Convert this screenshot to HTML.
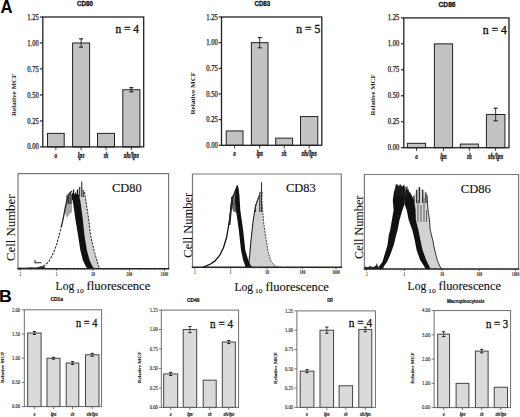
<!DOCTYPE html>
<html><head><meta charset="utf-8"><style>
html,body{margin:0;padding:0;background:#fff;width:520px;height:417px;overflow:hidden}
svg{display:block}
</style></head><body>
<svg width="520" height="417" viewBox="0 0 520 417">
<rect width="520" height="417" fill="#fff"/>
<rect x="47.5" y="133.39" width="16.7" height="13.51" fill="#c2c2c2" stroke="#222" stroke-width="1"/>
<rect x="72.6" y="42.98" width="17" height="103.92" fill="#c2c2c2" stroke="#222" stroke-width="1"/>
<line x1="81.1" y1="38.82" x2="81.1" y2="47.14" stroke="#222" stroke-width="0.9"/>
<line x1="79.1" y1="38.82" x2="83.1" y2="38.82" stroke="#222" stroke-width="1.17"/>
<line x1="79.1" y1="47.14" x2="83.1" y2="47.14" stroke="#222" stroke-width="1.17"/>
<rect x="97.5" y="133.39" width="17" height="13.51" fill="#c2c2c2" stroke="#222" stroke-width="1"/>
<rect x="122.8" y="89.74" width="17.1" height="57.16" fill="#c2c2c2" stroke="#222" stroke-width="1"/>
<line x1="131.35" y1="87.67" x2="131.35" y2="91.82" stroke="#222" stroke-width="0.9"/>
<line x1="129.35" y1="87.67" x2="133.35" y2="87.67" stroke="#222" stroke-width="1.17"/>
<line x1="129.35" y1="91.82" x2="133.35" y2="91.82" stroke="#222" stroke-width="1.17"/>
<rect x="42.8" y="17" width="100.9" height="129.9" fill="none" stroke="#222" stroke-width="1.3"/>
<line x1="40" y1="146.9" x2="42.8" y2="146.9" stroke="#222" stroke-width="1.17"/>
<text x="38.8" y="149.49" font-family='"Liberation Serif", serif' font-size="7.4" font-weight="normal" font-style="normal" text-anchor="end" fill="#222" textLength="11.6" lengthAdjust="spacingAndGlyphs" stroke="#222" stroke-width="0.25" >0.00</text>
<line x1="40" y1="120.92" x2="42.8" y2="120.92" stroke="#222" stroke-width="1.17"/>
<text x="38.8" y="123.51" font-family='"Liberation Serif", serif' font-size="7.4" font-weight="normal" font-style="normal" text-anchor="end" fill="#222" textLength="11.6" lengthAdjust="spacingAndGlyphs" stroke="#222" stroke-width="0.25" >0.25</text>
<line x1="40" y1="94.94" x2="42.8" y2="94.94" stroke="#222" stroke-width="1.17"/>
<text x="38.8" y="97.53" font-family='"Liberation Serif", serif' font-size="7.4" font-weight="normal" font-style="normal" text-anchor="end" fill="#222" textLength="11.6" lengthAdjust="spacingAndGlyphs" stroke="#222" stroke-width="0.25" >0.50</text>
<line x1="40" y1="68.96" x2="42.8" y2="68.96" stroke="#222" stroke-width="1.17"/>
<text x="38.8" y="71.55" font-family='"Liberation Serif", serif' font-size="7.4" font-weight="normal" font-style="normal" text-anchor="end" fill="#222" textLength="11.6" lengthAdjust="spacingAndGlyphs" stroke="#222" stroke-width="0.25" >0.75</text>
<line x1="40" y1="42.98" x2="42.8" y2="42.98" stroke="#222" stroke-width="1.17"/>
<text x="38.8" y="45.57" font-family='"Liberation Serif", serif' font-size="7.4" font-weight="normal" font-style="normal" text-anchor="end" fill="#222" textLength="11.6" lengthAdjust="spacingAndGlyphs" stroke="#222" stroke-width="0.25" >1.00</text>
<line x1="40" y1="17" x2="42.8" y2="17" stroke="#222" stroke-width="1.17"/>
<text x="38.8" y="19.59" font-family='"Liberation Serif", serif' font-size="7.4" font-weight="normal" font-style="normal" text-anchor="end" fill="#222" textLength="11.6" lengthAdjust="spacingAndGlyphs" stroke="#222" stroke-width="0.25" >1.25</text>
<line x1="55.85" y1="146.9" x2="55.85" y2="150.1" stroke="#222" stroke-width="0.9"/>
<text x="55.85" y="157.6" font-family='"Liberation Serif", serif' font-size="7.4" font-weight="bold" font-style="italic" text-anchor="middle" fill="#222" textLength="2.6" lengthAdjust="spacingAndGlyphs" stroke="#222" stroke-width="0.3" >o</text>
<line x1="81.1" y1="146.9" x2="81.1" y2="150.1" stroke="#222" stroke-width="0.9"/>
<text x="81.1" y="157.6" font-family='"Liberation Serif", serif' font-size="7.4" font-weight="bold" font-style="italic" text-anchor="middle" fill="#222" textLength="6.6" lengthAdjust="spacingAndGlyphs" stroke="#222" stroke-width="0.3" >lps</text>
<line x1="106" y1="146.9" x2="106" y2="150.1" stroke="#222" stroke-width="0.9"/>
<text x="106" y="157.6" font-family='"Liberation Serif", serif' font-size="7.4" font-weight="bold" font-style="italic" text-anchor="middle" fill="#222" textLength="4.6" lengthAdjust="spacingAndGlyphs" stroke="#222" stroke-width="0.3" >sh</text>
<line x1="131.35" y1="146.9" x2="131.35" y2="150.1" stroke="#222" stroke-width="0.9"/>
<text x="131.35" y="157.6" font-family='"Liberation Serif", serif' font-size="7.4" font-weight="bold" font-style="italic" text-anchor="middle" fill="#222" textLength="15.2" lengthAdjust="spacingAndGlyphs" stroke="#222" stroke-width="0.3" >sh/lps</text>
<text x="77" y="5.9" font-family='"Liberation Sans", sans-serif' font-size="7" font-weight="bold" font-style="normal" text-anchor="start" fill="#111" textLength="15.9" lengthAdjust="spacingAndGlyphs" stroke="#111" stroke-width="0.3" >CD80</text>
<text x="115.4" y="32.8" font-family='"Liberation Serif", serif' font-size="12" font-weight="normal" font-style="normal" text-anchor="start" fill="#111" textLength="23.5" lengthAdjust="spacingAndGlyphs" stroke="#111" stroke-width="0.35" >n = 4</text>
<text x="0" y="0" font-family='"Liberation Serif", serif' font-size="6.4" font-weight="bold" font-style="normal" text-anchor="middle" fill="#222" textLength="42.4" lengthAdjust="spacingAndGlyphs" transform="translate(16,94.8) rotate(-90)">Relative MCF</text>
<rect x="226.2" y="130.93" width="16.8" height="14.37" fill="#c2c2c2" stroke="#222" stroke-width="1"/>
<rect x="251.4" y="42.66" width="16.6" height="102.64" fill="#c2c2c2" stroke="#222" stroke-width="1"/>
<line x1="259.7" y1="37.53" x2="259.7" y2="47.79" stroke="#222" stroke-width="0.9"/>
<line x1="257.7" y1="37.53" x2="261.7" y2="37.53" stroke="#222" stroke-width="1.17"/>
<line x1="257.7" y1="47.79" x2="261.7" y2="47.79" stroke="#222" stroke-width="1.17"/>
<rect x="275.7" y="138.12" width="16.9" height="7.18" fill="#c2c2c2" stroke="#222" stroke-width="1"/>
<rect x="300.5" y="116.56" width="17.3" height="28.74" fill="#c2c2c2" stroke="#222" stroke-width="1"/>
<rect x="221.5" y="17" width="100.3" height="128.3" fill="none" stroke="#222" stroke-width="1.3"/>
<line x1="218.7" y1="145.3" x2="221.5" y2="145.3" stroke="#222" stroke-width="1.17"/>
<text x="217.8" y="147.89" font-family='"Liberation Serif", serif' font-size="7.4" font-weight="normal" font-style="normal" text-anchor="end" fill="#222" textLength="11.6" lengthAdjust="spacingAndGlyphs" stroke="#222" stroke-width="0.25" >0.00</text>
<line x1="218.7" y1="119.64" x2="221.5" y2="119.64" stroke="#222" stroke-width="1.17"/>
<text x="217.8" y="122.23" font-family='"Liberation Serif", serif' font-size="7.4" font-weight="normal" font-style="normal" text-anchor="end" fill="#222" textLength="11.6" lengthAdjust="spacingAndGlyphs" stroke="#222" stroke-width="0.25" >0.25</text>
<line x1="218.7" y1="93.98" x2="221.5" y2="93.98" stroke="#222" stroke-width="1.17"/>
<text x="217.8" y="96.57" font-family='"Liberation Serif", serif' font-size="7.4" font-weight="normal" font-style="normal" text-anchor="end" fill="#222" textLength="11.6" lengthAdjust="spacingAndGlyphs" stroke="#222" stroke-width="0.25" >0.50</text>
<line x1="218.7" y1="68.32" x2="221.5" y2="68.32" stroke="#222" stroke-width="1.17"/>
<text x="217.8" y="70.91" font-family='"Liberation Serif", serif' font-size="7.4" font-weight="normal" font-style="normal" text-anchor="end" fill="#222" textLength="11.6" lengthAdjust="spacingAndGlyphs" stroke="#222" stroke-width="0.25" >0.75</text>
<line x1="218.7" y1="42.66" x2="221.5" y2="42.66" stroke="#222" stroke-width="1.17"/>
<text x="217.8" y="45.25" font-family='"Liberation Serif", serif' font-size="7.4" font-weight="normal" font-style="normal" text-anchor="end" fill="#222" textLength="11.6" lengthAdjust="spacingAndGlyphs" stroke="#222" stroke-width="0.25" >1.00</text>
<line x1="218.7" y1="17" x2="221.5" y2="17" stroke="#222" stroke-width="1.17"/>
<text x="217.8" y="19.59" font-family='"Liberation Serif", serif' font-size="7.4" font-weight="normal" font-style="normal" text-anchor="end" fill="#222" textLength="11.6" lengthAdjust="spacingAndGlyphs" stroke="#222" stroke-width="0.25" >1.25</text>
<line x1="234.6" y1="145.3" x2="234.6" y2="148.5" stroke="#222" stroke-width="0.9"/>
<text x="234.6" y="156.3" font-family='"Liberation Serif", serif' font-size="7.4" font-weight="bold" font-style="italic" text-anchor="middle" fill="#222" textLength="2.6" lengthAdjust="spacingAndGlyphs" stroke="#222" stroke-width="0.3" >o</text>
<line x1="259.7" y1="145.3" x2="259.7" y2="148.5" stroke="#222" stroke-width="0.9"/>
<text x="259.7" y="156.3" font-family='"Liberation Serif", serif' font-size="7.4" font-weight="bold" font-style="italic" text-anchor="middle" fill="#222" textLength="6.6" lengthAdjust="spacingAndGlyphs" stroke="#222" stroke-width="0.3" >lps</text>
<line x1="284.15" y1="145.3" x2="284.15" y2="148.5" stroke="#222" stroke-width="0.9"/>
<text x="284.15" y="156.3" font-family='"Liberation Serif", serif' font-size="7.4" font-weight="bold" font-style="italic" text-anchor="middle" fill="#222" textLength="4.6" lengthAdjust="spacingAndGlyphs" stroke="#222" stroke-width="0.3" >sh</text>
<line x1="309.15" y1="145.3" x2="309.15" y2="148.5" stroke="#222" stroke-width="0.9"/>
<text x="309.15" y="156.3" font-family='"Liberation Serif", serif' font-size="7.4" font-weight="bold" font-style="italic" text-anchor="middle" fill="#222" textLength="15.2" lengthAdjust="spacingAndGlyphs" stroke="#222" stroke-width="0.3" >sh/lps</text>
<text x="254.5" y="5.9" font-family='"Liberation Sans", sans-serif' font-size="7" font-weight="bold" font-style="normal" text-anchor="start" fill="#111" textLength="15.7" lengthAdjust="spacingAndGlyphs" stroke="#111" stroke-width="0.3" >CD83</text>
<text x="296.3" y="33.4" font-family='"Liberation Serif", serif' font-size="12" font-weight="normal" font-style="normal" text-anchor="start" fill="#111" textLength="24" lengthAdjust="spacingAndGlyphs" stroke="#111" stroke-width="0.35" >n = 5</text>
<text x="0" y="0" font-family='"Liberation Serif", serif' font-size="6.4" font-weight="bold" font-style="normal" text-anchor="middle" fill="#222" textLength="42.8" lengthAdjust="spacingAndGlyphs" transform="translate(195.3,93.2) rotate(-90)">Relative MCF</text>
<rect x="407.4" y="143.34" width="18.2" height="4.36" fill="#c2c2c2" stroke="#222" stroke-width="1"/>
<rect x="434.4" y="43.86" width="18.2" height="103.84" fill="#c2c2c2" stroke="#222" stroke-width="1"/>
<rect x="460.3" y="144.07" width="18.1" height="3.63" fill="#c2c2c2" stroke="#222" stroke-width="1"/>
<rect x="486.4" y="114.47" width="18.5" height="33.23" fill="#c2c2c2" stroke="#222" stroke-width="1"/>
<line x1="495.65" y1="108.24" x2="495.65" y2="120.7" stroke="#222" stroke-width="0.9"/>
<line x1="493.65" y1="108.24" x2="497.65" y2="108.24" stroke="#222" stroke-width="1.17"/>
<line x1="493.65" y1="120.7" x2="497.65" y2="120.7" stroke="#222" stroke-width="1.17"/>
<rect x="403.8" y="17.9" width="105.2" height="129.8" fill="none" stroke="#222" stroke-width="1.3"/>
<line x1="401" y1="147.7" x2="403.8" y2="147.7" stroke="#222" stroke-width="1.17"/>
<text x="399.3" y="150.29" font-family='"Liberation Serif", serif' font-size="7.4" font-weight="normal" font-style="normal" text-anchor="end" fill="#222" textLength="11.6" lengthAdjust="spacingAndGlyphs" stroke="#222" stroke-width="0.25" >0.00</text>
<line x1="401" y1="121.74" x2="403.8" y2="121.74" stroke="#222" stroke-width="1.17"/>
<text x="399.3" y="124.33" font-family='"Liberation Serif", serif' font-size="7.4" font-weight="normal" font-style="normal" text-anchor="end" fill="#222" textLength="11.6" lengthAdjust="spacingAndGlyphs" stroke="#222" stroke-width="0.25" >0.25</text>
<line x1="401" y1="95.78" x2="403.8" y2="95.78" stroke="#222" stroke-width="1.17"/>
<text x="399.3" y="98.37" font-family='"Liberation Serif", serif' font-size="7.4" font-weight="normal" font-style="normal" text-anchor="end" fill="#222" textLength="11.6" lengthAdjust="spacingAndGlyphs" stroke="#222" stroke-width="0.25" >0.50</text>
<line x1="401" y1="69.82" x2="403.8" y2="69.82" stroke="#222" stroke-width="1.17"/>
<text x="399.3" y="72.41" font-family='"Liberation Serif", serif' font-size="7.4" font-weight="normal" font-style="normal" text-anchor="end" fill="#222" textLength="11.6" lengthAdjust="spacingAndGlyphs" stroke="#222" stroke-width="0.25" >0.75</text>
<line x1="401" y1="43.86" x2="403.8" y2="43.86" stroke="#222" stroke-width="1.17"/>
<text x="399.3" y="46.45" font-family='"Liberation Serif", serif' font-size="7.4" font-weight="normal" font-style="normal" text-anchor="end" fill="#222" textLength="11.6" lengthAdjust="spacingAndGlyphs" stroke="#222" stroke-width="0.25" >1.00</text>
<line x1="401" y1="17.9" x2="403.8" y2="17.9" stroke="#222" stroke-width="1.17"/>
<text x="399.3" y="20.49" font-family='"Liberation Serif", serif' font-size="7.4" font-weight="normal" font-style="normal" text-anchor="end" fill="#222" textLength="11.6" lengthAdjust="spacingAndGlyphs" stroke="#222" stroke-width="0.25" >1.25</text>
<line x1="416.5" y1="147.7" x2="416.5" y2="150.9" stroke="#222" stroke-width="0.9"/>
<text x="416.5" y="158.8" font-family='"Liberation Serif", serif' font-size="7.4" font-weight="bold" font-style="italic" text-anchor="middle" fill="#222" textLength="2.6" lengthAdjust="spacingAndGlyphs" stroke="#222" stroke-width="0.3" >o</text>
<line x1="443.5" y1="147.7" x2="443.5" y2="150.9" stroke="#222" stroke-width="0.9"/>
<text x="443.5" y="158.8" font-family='"Liberation Serif", serif' font-size="7.4" font-weight="bold" font-style="italic" text-anchor="middle" fill="#222" textLength="6.6" lengthAdjust="spacingAndGlyphs" stroke="#222" stroke-width="0.3" >lps</text>
<line x1="469.35" y1="147.7" x2="469.35" y2="150.9" stroke="#222" stroke-width="0.9"/>
<text x="469.35" y="158.8" font-family='"Liberation Serif", serif' font-size="7.4" font-weight="bold" font-style="italic" text-anchor="middle" fill="#222" textLength="4.6" lengthAdjust="spacingAndGlyphs" stroke="#222" stroke-width="0.3" >sh</text>
<line x1="495.65" y1="147.7" x2="495.65" y2="150.9" stroke="#222" stroke-width="0.9"/>
<text x="495.65" y="158.8" font-family='"Liberation Serif", serif' font-size="7.4" font-weight="bold" font-style="italic" text-anchor="middle" fill="#222" textLength="15.2" lengthAdjust="spacingAndGlyphs" stroke="#222" stroke-width="0.3" >sh/lps</text>
<text x="438.6" y="6.6" font-family='"Liberation Sans", sans-serif' font-size="7" font-weight="bold" font-style="normal" text-anchor="start" fill="#111" textLength="16.9" lengthAdjust="spacingAndGlyphs" stroke="#111" stroke-width="0.3" >CD86</text>
<text x="482.8" y="34.4" font-family='"Liberation Serif", serif' font-size="12" font-weight="normal" font-style="normal" text-anchor="start" fill="#111" textLength="24" lengthAdjust="spacingAndGlyphs" stroke="#111" stroke-width="0.35" >n = 4</text>
<text x="0" y="0" font-family='"Liberation Serif", serif' font-size="6.4" font-weight="bold" font-style="normal" text-anchor="middle" fill="#222" textLength="41.2" lengthAdjust="spacingAndGlyphs" transform="translate(375.3,94.9) rotate(-90)">Relative MCF</text>
<polygon points="64.5,212 66,203 67,197 68.5,194.5 70,193 72,194 72,212 69.5,214 67,218" fill="#8a8a8a" stroke="none" stroke-width="0" fill-opacity="0.75" stroke-linejoin="round"/>
<polygon points="77,196 78,190 81,186 83,189 84.5,193 86.5,205 88.8,220 90.5,235 93.9,250 96.8,260 99,267.5 100.5,268.8 88,268.8" fill="#d0d0d0" stroke="none" stroke-width="0" stroke-linejoin="round"/>
<line x1="81.7" y1="181.4" x2="81.7" y2="197" stroke="#444" stroke-width="1.2"/><line x1="79.5" y1="187" x2="79.5" y2="197" stroke="#444" stroke-width="1.2"/><line x1="83.3" y1="190" x2="83.3" y2="197" stroke="#444" stroke-width="1.2"/>
<polyline points="84.5,192 86.5,205 88.8,220 90.5,235 93.9,250 96.8,260 99,267.5 101.5,268.8" fill="none" stroke="#222" stroke-width="1" stroke-dasharray="2.2,1.2" stroke-linejoin="round"/>
<polyline points="40,267.6 44.6,265.5 48.8,261.5 52.5,254.8 55,249 57,243 59.5,234 61.2,227" fill="none" stroke="#333" stroke-width="1.1" stroke-dasharray="2.4,1.2" stroke-linejoin="round"/>
<polyline points="61.2,227 62.8,220.6 65,209 67.4,197.8 68.5,195.5 70.5,192.5 72,191" fill="none" stroke="#222" stroke-width="1.3" stroke-linejoin="round"/>
<line x1="67" y1="194.5" x2="67" y2="204" stroke="#333" stroke-width="1"/><line x1="68.5" y1="193.5" x2="68.5" y2="204" stroke="#333" stroke-width="1"/><line x1="70" y1="192" x2="70" y2="204" stroke="#333" stroke-width="1"/><line x1="71" y1="194" x2="71" y2="204" stroke="#333" stroke-width="1"/>
<polygon points="72,197 72,194 73,193 74.2,194 75.5,195 76.5,194 77.6,193 78.8,195 80.2,200 82.9,220 84.4,235 86.8,250 89.5,260 92.2,266 94.5,268.8 87.5,268.8 85.6,266 82.8,260 80.3,250 78,235 75.5,220 73.4,205" fill="#111" stroke="none" stroke-width="0" stroke-linejoin="round"/>
<line x1="73.6" y1="189.4" x2="73.6" y2="200" stroke="#111" stroke-width="1.2"/><line x1="77.4" y1="189.4" x2="77.4" y2="200" stroke="#111" stroke-width="1.2"/><line x1="75.5" y1="192.5" x2="75.5" y2="200" stroke="#111" stroke-width="1.2"/><line x1="72.5" y1="193" x2="72.5" y2="200" stroke="#111" stroke-width="1.2"/>
<polyline points="35,259.8 35,263.2" fill="none" stroke="#333" stroke-width="1" stroke-linejoin="round"/>
<polyline points="34.8,262.7 41.5,262.7" fill="none" stroke="#333" stroke-width="1.1" stroke-linejoin="round"/>
<polygon points="18,268.8 18,267.6 25,267.8 30,267.2 36,267.4 40,266.6 44,266 46,268.8" fill="#333" stroke="none" stroke-width="0" stroke-linejoin="round"/>
<path d="M18,268.8 V173.6 H168.6 V268.8" fill="none" stroke="#7a7a7a" stroke-width="1.2"/>
<line x1="17.3" y1="268.8" x2="169.3" y2="268.8" stroke="#222" stroke-width="1.5"/>
<line x1="20.2" y1="268.8" x2="20.2" y2="270.8" stroke="#333" stroke-width="0.8"/>
<line x1="31.05" y1="268.8" x2="31.05" y2="270.1" stroke="#555" stroke-width="0.6"/>
<line x1="37.4" y1="268.8" x2="37.4" y2="270.1" stroke="#555" stroke-width="0.6"/>
<line x1="41.9" y1="268.8" x2="41.9" y2="270.1" stroke="#555" stroke-width="0.6"/>
<line x1="45.4" y1="268.8" x2="45.4" y2="270.1" stroke="#555" stroke-width="0.6"/>
<line x1="48.25" y1="268.8" x2="48.25" y2="270.1" stroke="#555" stroke-width="0.6"/>
<line x1="50.67" y1="268.8" x2="50.67" y2="270.1" stroke="#555" stroke-width="0.6"/>
<line x1="52.76" y1="268.8" x2="52.76" y2="270.1" stroke="#555" stroke-width="0.6"/>
<line x1="54.6" y1="268.8" x2="54.6" y2="270.1" stroke="#555" stroke-width="0.6"/>
<line x1="56.6" y1="268.8" x2="56.6" y2="270.8" stroke="#333" stroke-width="0.8"/>
<line x1="67.45" y1="268.8" x2="67.45" y2="270.1" stroke="#555" stroke-width="0.6"/>
<line x1="73.8" y1="268.8" x2="73.8" y2="270.1" stroke="#555" stroke-width="0.6"/>
<line x1="78.3" y1="268.8" x2="78.3" y2="270.1" stroke="#555" stroke-width="0.6"/>
<line x1="81.8" y1="268.8" x2="81.8" y2="270.1" stroke="#555" stroke-width="0.6"/>
<line x1="84.65" y1="268.8" x2="84.65" y2="270.1" stroke="#555" stroke-width="0.6"/>
<line x1="87.07" y1="268.8" x2="87.07" y2="270.1" stroke="#555" stroke-width="0.6"/>
<line x1="89.16" y1="268.8" x2="89.16" y2="270.1" stroke="#555" stroke-width="0.6"/>
<line x1="91" y1="268.8" x2="91" y2="270.1" stroke="#555" stroke-width="0.6"/>
<line x1="93" y1="268.8" x2="93" y2="270.8" stroke="#333" stroke-width="0.8"/>
<line x1="103.85" y1="268.8" x2="103.85" y2="270.1" stroke="#555" stroke-width="0.6"/>
<line x1="110.2" y1="268.8" x2="110.2" y2="270.1" stroke="#555" stroke-width="0.6"/>
<line x1="114.7" y1="268.8" x2="114.7" y2="270.1" stroke="#555" stroke-width="0.6"/>
<line x1="118.2" y1="268.8" x2="118.2" y2="270.1" stroke="#555" stroke-width="0.6"/>
<line x1="121.05" y1="268.8" x2="121.05" y2="270.1" stroke="#555" stroke-width="0.6"/>
<line x1="123.47" y1="268.8" x2="123.47" y2="270.1" stroke="#555" stroke-width="0.6"/>
<line x1="125.56" y1="268.8" x2="125.56" y2="270.1" stroke="#555" stroke-width="0.6"/>
<line x1="127.4" y1="268.8" x2="127.4" y2="270.1" stroke="#555" stroke-width="0.6"/>
<line x1="129.3" y1="268.8" x2="129.3" y2="270.8" stroke="#333" stroke-width="0.8"/>
<line x1="140.15" y1="268.8" x2="140.15" y2="270.1" stroke="#555" stroke-width="0.6"/>
<line x1="146.5" y1="268.8" x2="146.5" y2="270.1" stroke="#555" stroke-width="0.6"/>
<line x1="151" y1="268.8" x2="151" y2="270.1" stroke="#555" stroke-width="0.6"/>
<line x1="154.5" y1="268.8" x2="154.5" y2="270.1" stroke="#555" stroke-width="0.6"/>
<line x1="157.35" y1="268.8" x2="157.35" y2="270.1" stroke="#555" stroke-width="0.6"/>
<line x1="159.77" y1="268.8" x2="159.77" y2="270.1" stroke="#555" stroke-width="0.6"/>
<line x1="161.86" y1="268.8" x2="161.86" y2="270.1" stroke="#555" stroke-width="0.6"/>
<line x1="163.7" y1="268.8" x2="163.7" y2="270.1" stroke="#555" stroke-width="0.6"/>
<line x1="164.4" y1="268.8" x2="164.4" y2="270.8" stroke="#333" stroke-width="0.8"/>
<text x="20.2" y="276" font-family='"Liberation Serif", serif' font-size="5.2" font-weight="bold" font-style="normal" text-anchor="middle" fill="#222" textLength="2.2" lengthAdjust="spacingAndGlyphs" >.1</text>
<text x="56.6" y="276" font-family='"Liberation Serif", serif' font-size="5.2" font-weight="bold" font-style="normal" text-anchor="middle" fill="#222" textLength="1.6" lengthAdjust="spacingAndGlyphs" >1</text>
<text x="93" y="276" font-family='"Liberation Serif", serif' font-size="5.2" font-weight="bold" font-style="normal" text-anchor="middle" fill="#222" textLength="4.2" lengthAdjust="spacingAndGlyphs" >10</text>
<text x="129.3" y="276" font-family='"Liberation Serif", serif' font-size="5.2" font-weight="bold" font-style="normal" text-anchor="middle" fill="#222" textLength="6" lengthAdjust="spacingAndGlyphs" >100</text>
<text x="164.4" y="276" font-family='"Liberation Serif", serif' font-size="5.2" font-weight="bold" font-style="normal" text-anchor="middle" fill="#222" textLength="7.6" lengthAdjust="spacingAndGlyphs" >1000</text>
<text x="112" y="191.8" font-family='"Liberation Serif", serif' font-size="12.6" font-weight="normal" font-style="normal" text-anchor="start" fill="#111" textLength="29.8" lengthAdjust="spacingAndGlyphs" stroke="#111" stroke-width="0.15" >CD80</text>
<text x="0" y="0" font-family='"Liberation Serif", serif' font-size="12.4" font-weight="normal" font-style="normal" text-anchor="middle" fill="#111" textLength="66.4" lengthAdjust="spacingAndGlyphs" stroke="#111" stroke-width="0.05" transform="translate(14.8,227.8) rotate(-90)">Cell Number</text>
<text x="55.6" y="290" font-family='"Liberation Serif", serif' font-size="12.6" font-weight="normal" font-style="normal" text-anchor="start" fill="#111" textLength="18.6" lengthAdjust="spacingAndGlyphs" stroke="#111" stroke-width="0.15" >Log</text>
<text x="76.2" y="292.8" font-family='"Liberation Serif", serif' font-size="6.4" font-weight="normal" font-style="normal" text-anchor="start" fill="#111" textLength="7.4" lengthAdjust="spacingAndGlyphs" stroke="#111" stroke-width="0.1" >10</text>
<text x="86.6" y="290" font-family='"Liberation Serif", serif' font-size="12.6" font-weight="normal" font-style="normal" text-anchor="start" fill="#111" textLength="63.7" lengthAdjust="spacingAndGlyphs" stroke="#111" stroke-width="0.15" >fluorescence</text>
<polygon points="246,267.2 248.6,264 249.7,255.4 250.8,242.5 252.9,223 255.1,208 256.5,203 258,199 259.5,195 260.8,189 261.5,182.2 262.2,190 261.8,199.4 263.7,223 265.9,238.2 268,251.1 271.2,261.9 275.6,266.2 278,267.2" fill="#d0d0d0" stroke="none" stroke-width="0" stroke-linejoin="round"/>
<polyline points="248.6,264 249.7,255.4 250.8,242.5 252.9,223 255.1,208 256.5,203 258,199 259.5,195" fill="none" stroke="#222" stroke-width="1.1" stroke-linejoin="round"/>
<polyline points="262.2,192 261.8,199.4 263.7,223 265.9,238.2 268,251.1 271.2,261.9 275.6,266.2 278,267.2" fill="none" stroke="#333" stroke-width="0.9" stroke-dasharray="2,1" stroke-linejoin="round"/>
<line x1="261.5" y1="182.2" x2="261.5" y2="212" stroke="#333" stroke-width="1.1"/><line x1="259.8" y1="192" x2="259.8" y2="212" stroke="#333" stroke-width="1.1"/><line x1="255.5" y1="204.5" x2="255.5" y2="212" stroke="#333" stroke-width="1.1"/>
<polyline points="203,267.2 206.5,265.8 210.5,264 215.1,260.9 220.2,254.6 223.6,247.2 226.7,237 228.9,224 230.4,213 231.3,204.5 232.2,198 234.3,193.5 236,189 237.7,185.4" fill="none" stroke="#111" stroke-width="1.3" stroke-linejoin="round"/>
<polygon points="231.3,204.5 232.2,198 234.3,193.5 236,189 237.7,185.4 238.5,190 239,200 239.5,208 236.5,213 233,211" fill="#333" stroke="none" stroke-width="0" fill-opacity="0.75" stroke-linejoin="round"/>
<polyline points="229.5,225 230.8,211 231.6,203.8 232.3,197" fill="none" stroke="#222" stroke-width="1.8" stroke-linejoin="round"/>
<line x1="232.3" y1="195.9" x2="232.3" y2="205" stroke="#222" stroke-width="1.2"/><line x1="237.3" y1="185.8" x2="237.3" y2="205" stroke="#222" stroke-width="1.2"/><line x1="236" y1="190" x2="236" y2="205" stroke="#222" stroke-width="1.2"/>
<polygon points="236,190 237.2,187 238.3,187 239.4,195 240.3,210 243.1,230 245.3,250 248.2,260 251,266 253,267.2 245,267.2 245.3,266 243.1,260 241,250 238.8,230 236,210 235.2,200" fill="#111" stroke="none" stroke-width="0" stroke-linejoin="round"/>
<path d="M192.5,267.2 V174 H341.3 V267.2" fill="none" stroke="#7a7a7a" stroke-width="1.2"/>
<line x1="191.8" y1="267.2" x2="342" y2="267.2" stroke="#222" stroke-width="1.5"/>
<line x1="194.7" y1="267.2" x2="194.7" y2="269.2" stroke="#333" stroke-width="0.8"/>
<line x1="205.33" y1="267.2" x2="205.33" y2="268.5" stroke="#555" stroke-width="0.6"/>
<line x1="211.55" y1="267.2" x2="211.55" y2="268.5" stroke="#555" stroke-width="0.6"/>
<line x1="215.97" y1="267.2" x2="215.97" y2="268.5" stroke="#555" stroke-width="0.6"/>
<line x1="219.39" y1="267.2" x2="219.39" y2="268.5" stroke="#555" stroke-width="0.6"/>
<line x1="222.19" y1="267.2" x2="222.19" y2="268.5" stroke="#555" stroke-width="0.6"/>
<line x1="224.55" y1="267.2" x2="224.55" y2="268.5" stroke="#555" stroke-width="0.6"/>
<line x1="226.6" y1="267.2" x2="226.6" y2="268.5" stroke="#555" stroke-width="0.6"/>
<line x1="228.41" y1="267.2" x2="228.41" y2="268.5" stroke="#555" stroke-width="0.6"/>
<line x1="230.6" y1="267.2" x2="230.6" y2="269.2" stroke="#333" stroke-width="0.8"/>
<line x1="241.23" y1="267.2" x2="241.23" y2="268.5" stroke="#555" stroke-width="0.6"/>
<line x1="247.45" y1="267.2" x2="247.45" y2="268.5" stroke="#555" stroke-width="0.6"/>
<line x1="251.87" y1="267.2" x2="251.87" y2="268.5" stroke="#555" stroke-width="0.6"/>
<line x1="255.29" y1="267.2" x2="255.29" y2="268.5" stroke="#555" stroke-width="0.6"/>
<line x1="258.09" y1="267.2" x2="258.09" y2="268.5" stroke="#555" stroke-width="0.6"/>
<line x1="260.45" y1="267.2" x2="260.45" y2="268.5" stroke="#555" stroke-width="0.6"/>
<line x1="262.5" y1="267.2" x2="262.5" y2="268.5" stroke="#555" stroke-width="0.6"/>
<line x1="264.31" y1="267.2" x2="264.31" y2="268.5" stroke="#555" stroke-width="0.6"/>
<line x1="267" y1="267.2" x2="267" y2="269.2" stroke="#333" stroke-width="0.8"/>
<line x1="277.63" y1="267.2" x2="277.63" y2="268.5" stroke="#555" stroke-width="0.6"/>
<line x1="283.85" y1="267.2" x2="283.85" y2="268.5" stroke="#555" stroke-width="0.6"/>
<line x1="288.27" y1="267.2" x2="288.27" y2="268.5" stroke="#555" stroke-width="0.6"/>
<line x1="291.69" y1="267.2" x2="291.69" y2="268.5" stroke="#555" stroke-width="0.6"/>
<line x1="294.49" y1="267.2" x2="294.49" y2="268.5" stroke="#555" stroke-width="0.6"/>
<line x1="296.85" y1="267.2" x2="296.85" y2="268.5" stroke="#555" stroke-width="0.6"/>
<line x1="298.9" y1="267.2" x2="298.9" y2="268.5" stroke="#555" stroke-width="0.6"/>
<line x1="300.71" y1="267.2" x2="300.71" y2="268.5" stroke="#555" stroke-width="0.6"/>
<line x1="302.4" y1="267.2" x2="302.4" y2="269.2" stroke="#333" stroke-width="0.8"/>
<line x1="313.03" y1="267.2" x2="313.03" y2="268.5" stroke="#555" stroke-width="0.6"/>
<line x1="319.25" y1="267.2" x2="319.25" y2="268.5" stroke="#555" stroke-width="0.6"/>
<line x1="323.67" y1="267.2" x2="323.67" y2="268.5" stroke="#555" stroke-width="0.6"/>
<line x1="327.09" y1="267.2" x2="327.09" y2="268.5" stroke="#555" stroke-width="0.6"/>
<line x1="329.89" y1="267.2" x2="329.89" y2="268.5" stroke="#555" stroke-width="0.6"/>
<line x1="332.25" y1="267.2" x2="332.25" y2="268.5" stroke="#555" stroke-width="0.6"/>
<line x1="334.3" y1="267.2" x2="334.3" y2="268.5" stroke="#555" stroke-width="0.6"/>
<line x1="336.11" y1="267.2" x2="336.11" y2="268.5" stroke="#555" stroke-width="0.6"/>
<line x1="336" y1="267.2" x2="336" y2="269.2" stroke="#333" stroke-width="0.8"/>
<text x="194.7" y="274.4" font-family='"Liberation Serif", serif' font-size="5.2" font-weight="bold" font-style="normal" text-anchor="middle" fill="#222" textLength="2.2" lengthAdjust="spacingAndGlyphs" >.1</text>
<text x="230.6" y="274.4" font-family='"Liberation Serif", serif' font-size="5.2" font-weight="bold" font-style="normal" text-anchor="middle" fill="#222" textLength="1.6" lengthAdjust="spacingAndGlyphs" >1</text>
<text x="267" y="274.4" font-family='"Liberation Serif", serif' font-size="5.2" font-weight="bold" font-style="normal" text-anchor="middle" fill="#222" textLength="4.2" lengthAdjust="spacingAndGlyphs" >10</text>
<text x="302.4" y="274.4" font-family='"Liberation Serif", serif' font-size="5.2" font-weight="bold" font-style="normal" text-anchor="middle" fill="#222" textLength="6" lengthAdjust="spacingAndGlyphs" >100</text>
<text x="336" y="274.4" font-family='"Liberation Serif", serif' font-size="5.2" font-weight="bold" font-style="normal" text-anchor="middle" fill="#222" textLength="7.6" lengthAdjust="spacingAndGlyphs" >1000</text>
<text x="286" y="192.3" font-family='"Liberation Serif", serif' font-size="12.6" font-weight="normal" font-style="normal" text-anchor="start" fill="#111" textLength="29.7" lengthAdjust="spacingAndGlyphs" stroke="#111" stroke-width="0.15" >CD83</text>
<text x="0" y="0" font-family='"Liberation Serif", serif' font-size="12.4" font-weight="normal" font-style="normal" text-anchor="middle" fill="#111" textLength="64.8" lengthAdjust="spacingAndGlyphs" stroke="#111" stroke-width="0.05" transform="translate(191.6,225.3) rotate(-90)">Cell Number</text>
<text x="234.5" y="290.5" font-family='"Liberation Serif", serif' font-size="12.6" font-weight="normal" font-style="normal" text-anchor="start" fill="#111" textLength="18.6" lengthAdjust="spacingAndGlyphs" stroke="#111" stroke-width="0.15" >Log</text>
<text x="255.1" y="293.3" font-family='"Liberation Serif", serif' font-size="6.4" font-weight="normal" font-style="normal" text-anchor="start" fill="#111" textLength="7.4" lengthAdjust="spacingAndGlyphs" stroke="#111" stroke-width="0.1" >10</text>
<text x="265.5" y="290.5" font-family='"Liberation Serif", serif' font-size="12.6" font-weight="normal" font-style="normal" text-anchor="start" fill="#111" textLength="63.4" lengthAdjust="spacingAndGlyphs" stroke="#111" stroke-width="0.15" >fluorescence</text>
<polygon points="415.9,220 415.6,210 414,200 413,196 414,195.6 416.7,189.7 419.4,187 422.7,189.7 425.9,192.4 427,195 428,210 429.5,220 430.2,230 432.7,240 434.7,250 437.2,260 439.7,266 441.5,268.9 430,268.9 429,266 426,260 422.4,250 420.2,240 418.2,230" fill="#d2d2d2" stroke="none" stroke-width="0" stroke-linejoin="round"/>
<polyline points="427,195 428,210 429.5,220 430.2,230 432.7,240 434.7,250 437.2,260 439.7,266 441.5,268.9" fill="none" stroke="#333" stroke-width="1" stroke-linejoin="round"/>
<line x1="407" y1="186.5" x2="407" y2="203" stroke="#2a2a2a" stroke-width="1.2"/><line x1="410.2" y1="193.5" x2="410.2" y2="203" stroke="#2a2a2a" stroke-width="1.2"/><line x1="414" y1="195.6" x2="414" y2="203" stroke="#2a2a2a" stroke-width="1.2"/><line x1="416.7" y1="189.7" x2="416.7" y2="203" stroke="#2a2a2a" stroke-width="1.2"/><line x1="419.4" y1="187" x2="419.4" y2="203" stroke="#2a2a2a" stroke-width="1.2"/><line x1="422.7" y1="189.7" x2="422.7" y2="203" stroke="#2a2a2a" stroke-width="1.2"/><line x1="425.9" y1="192.4" x2="425.9" y2="203" stroke="#2a2a2a" stroke-width="1.2"/>
<line x1="418" y1="200" x2="418" y2="222" stroke="#555" stroke-width="0.9"/><line x1="421" y1="205" x2="421" y2="222" stroke="#555" stroke-width="0.9"/><line x1="424" y1="198" x2="424" y2="222" stroke="#555" stroke-width="0.9"/><line x1="426.5" y1="210" x2="426.5" y2="222" stroke="#555" stroke-width="0.9"/>
<polygon points="378.5,268.9 378.5,267 382.4,262 384.5,255 387.5,245 388.8,235 390.2,230 391.9,220 393.6,210 392.8,200 394,192 396,185 397.5,184.5 399,187 400.5,184.2 402,187 403.5,185 405,188 405.5,192 405,198 404.6,204 402.4,210 399.5,220 397.6,230 396.2,235 393.8,245 390.2,255 387,262 383.4,267 383.8,268.9" fill="#111" stroke="none" stroke-width="0" stroke-linejoin="round"/>
<polygon points="405.5,192 405,198 404.6,204 406.7,210 408.7,220 412.3,230 414.7,240 416.6,250 420.1,260 424,266 425.5,268.9 430.5,268.9 429.2,266 426.2,260 422.6,250 420.4,240 418.4,230 415.9,220 415.6,210 414,200 411,194 408,190 406,189" fill="#111" stroke="none" stroke-width="0" stroke-linejoin="round"/>
<line x1="396.2" y1="184.2" x2="396.2" y2="196" stroke="#222" stroke-width="1.1"/><line x1="398" y1="185" x2="398" y2="196" stroke="#222" stroke-width="1.1"/><line x1="400" y1="184.5" x2="400" y2="196" stroke="#222" stroke-width="1.1"/><line x1="402" y1="186" x2="402" y2="196" stroke="#222" stroke-width="1.1"/><line x1="404" y1="185" x2="404" y2="196" stroke="#222" stroke-width="1.1"/><line x1="406" y1="187" x2="406" y2="196" stroke="#222" stroke-width="1.1"/><line x1="408" y1="189" x2="408" y2="196" stroke="#222" stroke-width="1.1"/>
<polygon points="365,268.9 365,266.5 368,267.2 370,266 373,267.2 376,265.5 377,263 378,267 380,268.9" fill="#222" stroke="none" stroke-width="0" stroke-linejoin="round"/>
<path d="M364.4,268.9 V174.5 H518.6 V268.9" fill="none" stroke="#7a7a7a" stroke-width="1.2"/>
<line x1="363.7" y1="268.9" x2="519.3" y2="268.9" stroke="#222" stroke-width="1.5"/>
<line x1="366.6" y1="268.9" x2="366.6" y2="270.9" stroke="#333" stroke-width="0.8"/>
<line x1="377.81" y1="268.9" x2="377.81" y2="270.2" stroke="#555" stroke-width="0.6"/>
<line x1="384.37" y1="268.9" x2="384.37" y2="270.2" stroke="#555" stroke-width="0.6"/>
<line x1="389.03" y1="268.9" x2="389.03" y2="270.2" stroke="#555" stroke-width="0.6"/>
<line x1="392.64" y1="268.9" x2="392.64" y2="270.2" stroke="#555" stroke-width="0.6"/>
<line x1="395.59" y1="268.9" x2="395.59" y2="270.2" stroke="#555" stroke-width="0.6"/>
<line x1="398.08" y1="268.9" x2="398.08" y2="270.2" stroke="#555" stroke-width="0.6"/>
<line x1="400.24" y1="268.9" x2="400.24" y2="270.2" stroke="#555" stroke-width="0.6"/>
<line x1="402.15" y1="268.9" x2="402.15" y2="270.2" stroke="#555" stroke-width="0.6"/>
<line x1="404.3" y1="268.9" x2="404.3" y2="270.9" stroke="#333" stroke-width="0.8"/>
<line x1="415.51" y1="268.9" x2="415.51" y2="270.2" stroke="#555" stroke-width="0.6"/>
<line x1="422.07" y1="268.9" x2="422.07" y2="270.2" stroke="#555" stroke-width="0.6"/>
<line x1="426.73" y1="268.9" x2="426.73" y2="270.2" stroke="#555" stroke-width="0.6"/>
<line x1="430.34" y1="268.9" x2="430.34" y2="270.2" stroke="#555" stroke-width="0.6"/>
<line x1="433.29" y1="268.9" x2="433.29" y2="270.2" stroke="#555" stroke-width="0.6"/>
<line x1="435.78" y1="268.9" x2="435.78" y2="270.2" stroke="#555" stroke-width="0.6"/>
<line x1="437.94" y1="268.9" x2="437.94" y2="270.2" stroke="#555" stroke-width="0.6"/>
<line x1="439.85" y1="268.9" x2="439.85" y2="270.2" stroke="#555" stroke-width="0.6"/>
<line x1="442.1" y1="268.9" x2="442.1" y2="270.9" stroke="#333" stroke-width="0.8"/>
<line x1="453.31" y1="268.9" x2="453.31" y2="270.2" stroke="#555" stroke-width="0.6"/>
<line x1="459.87" y1="268.9" x2="459.87" y2="270.2" stroke="#555" stroke-width="0.6"/>
<line x1="464.53" y1="268.9" x2="464.53" y2="270.2" stroke="#555" stroke-width="0.6"/>
<line x1="468.14" y1="268.9" x2="468.14" y2="270.2" stroke="#555" stroke-width="0.6"/>
<line x1="471.09" y1="268.9" x2="471.09" y2="270.2" stroke="#555" stroke-width="0.6"/>
<line x1="473.58" y1="268.9" x2="473.58" y2="270.2" stroke="#555" stroke-width="0.6"/>
<line x1="475.74" y1="268.9" x2="475.74" y2="270.2" stroke="#555" stroke-width="0.6"/>
<line x1="477.65" y1="268.9" x2="477.65" y2="270.2" stroke="#555" stroke-width="0.6"/>
<line x1="479.3" y1="268.9" x2="479.3" y2="270.9" stroke="#333" stroke-width="0.8"/>
<line x1="490.51" y1="268.9" x2="490.51" y2="270.2" stroke="#555" stroke-width="0.6"/>
<line x1="497.07" y1="268.9" x2="497.07" y2="270.2" stroke="#555" stroke-width="0.6"/>
<line x1="501.73" y1="268.9" x2="501.73" y2="270.2" stroke="#555" stroke-width="0.6"/>
<line x1="505.34" y1="268.9" x2="505.34" y2="270.2" stroke="#555" stroke-width="0.6"/>
<line x1="508.29" y1="268.9" x2="508.29" y2="270.2" stroke="#555" stroke-width="0.6"/>
<line x1="510.78" y1="268.9" x2="510.78" y2="270.2" stroke="#555" stroke-width="0.6"/>
<line x1="512.94" y1="268.9" x2="512.94" y2="270.2" stroke="#555" stroke-width="0.6"/>
<line x1="514.85" y1="268.9" x2="514.85" y2="270.2" stroke="#555" stroke-width="0.6"/>
<line x1="515.6" y1="268.9" x2="515.6" y2="270.9" stroke="#333" stroke-width="0.8"/>
<text x="366.6" y="276.1" font-family='"Liberation Serif", serif' font-size="5.2" font-weight="bold" font-style="normal" text-anchor="middle" fill="#222" textLength="2.2" lengthAdjust="spacingAndGlyphs" >.1</text>
<text x="404.3" y="276.1" font-family='"Liberation Serif", serif' font-size="5.2" font-weight="bold" font-style="normal" text-anchor="middle" fill="#222" textLength="1.6" lengthAdjust="spacingAndGlyphs" >1</text>
<text x="442.1" y="276.1" font-family='"Liberation Serif", serif' font-size="5.2" font-weight="bold" font-style="normal" text-anchor="middle" fill="#222" textLength="4.2" lengthAdjust="spacingAndGlyphs" >10</text>
<text x="479.3" y="276.1" font-family='"Liberation Serif", serif' font-size="5.2" font-weight="bold" font-style="normal" text-anchor="middle" fill="#222" textLength="6" lengthAdjust="spacingAndGlyphs" >100</text>
<text x="515.6" y="276.1" font-family='"Liberation Serif", serif' font-size="5.2" font-weight="bold" font-style="normal" text-anchor="middle" fill="#222" textLength="7.6" lengthAdjust="spacingAndGlyphs" >1000</text>
<text x="460.8" y="193" font-family='"Liberation Serif", serif' font-size="12.6" font-weight="normal" font-style="normal" text-anchor="start" fill="#111" textLength="30.1" lengthAdjust="spacingAndGlyphs" stroke="#111" stroke-width="0.15" >CD86</text>
<text x="0" y="0" font-family='"Liberation Serif", serif' font-size="12.4" font-weight="normal" font-style="normal" text-anchor="middle" fill="#111" textLength="63.4" lengthAdjust="spacingAndGlyphs" stroke="#111" stroke-width="0.05" transform="translate(363.3,227.3) rotate(-90)">Cell Number</text>
<text x="407.6" y="289.7" font-family='"Liberation Serif", serif' font-size="12.6" font-weight="normal" font-style="normal" text-anchor="start" fill="#111" textLength="18.6" lengthAdjust="spacingAndGlyphs" stroke="#111" stroke-width="0.15" >Log</text>
<text x="428.2" y="292.5" font-family='"Liberation Serif", serif' font-size="6.4" font-weight="normal" font-style="normal" text-anchor="start" fill="#111" textLength="7.4" lengthAdjust="spacingAndGlyphs" stroke="#111" stroke-width="0.1" >10</text>
<text x="438.6" y="289.7" font-family='"Liberation Serif", serif' font-size="12.6" font-weight="normal" font-style="normal" text-anchor="start" fill="#111" textLength="62.4" lengthAdjust="spacingAndGlyphs" stroke="#111" stroke-width="0.15" >fluorescence</text>
<rect x="27.7" y="333.03" width="13.4" height="73.57" fill="#dadada" stroke="#3c3c3c" stroke-width="0.95"/>
<line x1="34.4" y1="331.58" x2="34.4" y2="334.48" stroke="#222" stroke-width="0.75"/>
<line x1="32.8" y1="331.58" x2="36" y2="331.58" stroke="#222" stroke-width="0.98"/>
<line x1="32.8" y1="334.48" x2="36" y2="334.48" stroke="#222" stroke-width="0.98"/>
<rect x="47" y="358.2" width="13" height="48.4" fill="#dadada" stroke="#3c3c3c" stroke-width="0.95"/>
<line x1="53.5" y1="357.23" x2="53.5" y2="359.17" stroke="#222" stroke-width="0.75"/>
<line x1="51.9" y1="357.23" x2="55.1" y2="357.23" stroke="#222" stroke-width="0.98"/>
<line x1="51.9" y1="359.17" x2="55.1" y2="359.17" stroke="#222" stroke-width="0.98"/>
<rect x="66.2" y="363.04" width="12.6" height="43.56" fill="#dadada" stroke="#3c3c3c" stroke-width="0.95"/>
<line x1="72.5" y1="361.59" x2="72.5" y2="364.49" stroke="#222" stroke-width="0.75"/>
<line x1="70.9" y1="361.59" x2="74.1" y2="361.59" stroke="#222" stroke-width="0.98"/>
<line x1="70.9" y1="364.49" x2="74.1" y2="364.49" stroke="#222" stroke-width="0.98"/>
<rect x="85.5" y="354.81" width="13.5" height="51.79" fill="#dadada" stroke="#3c3c3c" stroke-width="0.95"/>
<line x1="92.25" y1="353.36" x2="92.25" y2="356.26" stroke="#222" stroke-width="0.75"/>
<line x1="90.65" y1="353.36" x2="93.85" y2="353.36" stroke="#222" stroke-width="0.98"/>
<line x1="90.65" y1="356.26" x2="93.85" y2="356.26" stroke="#222" stroke-width="0.98"/>
<rect x="24.3" y="309.8" width="77.3" height="96.8" fill="none" stroke="#666" stroke-width="0.95"/>
<line x1="21.8" y1="406.6" x2="24.3" y2="406.6" stroke="#666" stroke-width="0.85"/>
<text x="20.2" y="408.42" font-family='"Liberation Serif", serif' font-size="5.2" font-weight="normal" font-style="normal" text-anchor="end" fill="#222" textLength="8.2" lengthAdjust="spacingAndGlyphs" stroke="#222" stroke-width="0.12" >0.00</text>
<line x1="21.8" y1="382.4" x2="24.3" y2="382.4" stroke="#666" stroke-width="0.85"/>
<text x="20.2" y="384.22" font-family='"Liberation Serif", serif' font-size="5.2" font-weight="normal" font-style="normal" text-anchor="end" fill="#222" textLength="8.2" lengthAdjust="spacingAndGlyphs" stroke="#222" stroke-width="0.12" >0.50</text>
<line x1="21.8" y1="358.2" x2="24.3" y2="358.2" stroke="#666" stroke-width="0.85"/>
<text x="20.2" y="360.02" font-family='"Liberation Serif", serif' font-size="5.2" font-weight="normal" font-style="normal" text-anchor="end" fill="#222" textLength="8.2" lengthAdjust="spacingAndGlyphs" stroke="#222" stroke-width="0.12" >1.00</text>
<line x1="21.8" y1="334" x2="24.3" y2="334" stroke="#666" stroke-width="0.85"/>
<text x="20.2" y="335.82" font-family='"Liberation Serif", serif' font-size="5.2" font-weight="normal" font-style="normal" text-anchor="end" fill="#222" textLength="8.2" lengthAdjust="spacingAndGlyphs" stroke="#222" stroke-width="0.12" >1.50</text>
<line x1="21.8" y1="309.8" x2="24.3" y2="309.8" stroke="#666" stroke-width="0.85"/>
<text x="20.2" y="311.62" font-family='"Liberation Serif", serif' font-size="5.2" font-weight="normal" font-style="normal" text-anchor="end" fill="#222" textLength="8.2" lengthAdjust="spacingAndGlyphs" stroke="#222" stroke-width="0.12" >2.00</text>
<line x1="34.4" y1="406.6" x2="34.4" y2="409" stroke="#666" stroke-width="0.9"/>
<text x="34.4" y="415.6" font-family='"Liberation Serif", serif' font-size="6.2" font-weight="bold" font-style="italic" text-anchor="middle" fill="#222" textLength="1.9" lengthAdjust="spacingAndGlyphs" stroke="#222" stroke-width="0.2" >o</text>
<line x1="53.5" y1="406.6" x2="53.5" y2="409" stroke="#666" stroke-width="0.9"/>
<text x="53.5" y="415.6" font-family='"Liberation Serif", serif' font-size="6.2" font-weight="bold" font-style="italic" text-anchor="middle" fill="#222" textLength="5.6" lengthAdjust="spacingAndGlyphs" stroke="#222" stroke-width="0.2" >lps</text>
<line x1="72.5" y1="406.6" x2="72.5" y2="409" stroke="#666" stroke-width="0.9"/>
<text x="72.5" y="415.6" font-family='"Liberation Serif", serif' font-size="6.2" font-weight="bold" font-style="italic" text-anchor="middle" fill="#222" textLength="3.5" lengthAdjust="spacingAndGlyphs" stroke="#222" stroke-width="0.2" >sh</text>
<line x1="92.25" y1="406.6" x2="92.25" y2="409" stroke="#666" stroke-width="0.9"/>
<text x="92.25" y="415.6" font-family='"Liberation Serif", serif' font-size="6.2" font-weight="bold" font-style="italic" text-anchor="middle" fill="#222" textLength="10.8" lengthAdjust="spacingAndGlyphs" stroke="#222" stroke-width="0.2" >sh/lps</text>
<text x="50.4" y="301.4" font-family='"Liberation Sans", sans-serif' font-size="5.2" font-weight="bold" font-style="normal" text-anchor="start" fill="#111" textLength="12.6" lengthAdjust="spacingAndGlyphs" stroke="#111" stroke-width="0.2" >CD1a</text>
<text x="76" y="327.4" font-family='"Liberation Serif", serif' font-size="12.4" font-weight="normal" font-style="normal" text-anchor="start" fill="#111" textLength="21.3" lengthAdjust="spacingAndGlyphs" stroke="#111" stroke-width="0.3" >n = 4</text>
<text x="0" y="0" font-family='"Liberation Serif", serif' font-size="4.4" font-weight="bold" font-style="normal" text-anchor="middle" fill="#222" textLength="31" lengthAdjust="spacingAndGlyphs" stroke="#222" stroke-width="0.1" transform="translate(3.9,367.4) rotate(-90)">Relative MCF</text>
<rect x="163.7" y="373.93" width="14" height="33.47" fill="#dadada" stroke="#3c3c3c" stroke-width="0.95"/>
<line x1="170.7" y1="372.37" x2="170.7" y2="375.49" stroke="#222" stroke-width="0.75"/>
<line x1="169.1" y1="372.37" x2="172.3" y2="372.37" stroke="#222" stroke-width="0.98"/>
<line x1="169.1" y1="375.49" x2="172.3" y2="375.49" stroke="#222" stroke-width="0.98"/>
<rect x="183.2" y="329.56" width="13.5" height="77.84" fill="#dadada" stroke="#3c3c3c" stroke-width="0.95"/>
<line x1="189.95" y1="326.45" x2="189.95" y2="332.67" stroke="#222" stroke-width="0.75"/>
<line x1="188.35" y1="326.45" x2="191.55" y2="326.45" stroke="#222" stroke-width="0.98"/>
<line x1="188.35" y1="332.67" x2="191.55" y2="332.67" stroke="#222" stroke-width="0.98"/>
<rect x="203.2" y="380.16" width="13" height="27.24" fill="#dadada" stroke="#3c3c3c" stroke-width="0.95"/>
<rect x="222.3" y="342.01" width="13" height="65.39" fill="#dadada" stroke="#3c3c3c" stroke-width="0.95"/>
<line x1="228.8" y1="340.46" x2="228.8" y2="343.57" stroke="#222" stroke-width="0.75"/>
<line x1="227.2" y1="340.46" x2="230.4" y2="340.46" stroke="#222" stroke-width="0.98"/>
<line x1="227.2" y1="343.57" x2="230.4" y2="343.57" stroke="#222" stroke-width="0.98"/>
<rect x="161.3" y="310.1" width="77.3" height="97.3" fill="none" stroke="#666" stroke-width="0.95"/>
<line x1="158.8" y1="407.4" x2="161.3" y2="407.4" stroke="#666" stroke-width="0.85"/>
<text x="157.9" y="409.22" font-family='"Liberation Serif", serif' font-size="5.2" font-weight="normal" font-style="normal" text-anchor="end" fill="#222" textLength="8.2" lengthAdjust="spacingAndGlyphs" stroke="#222" stroke-width="0.12" >0.00</text>
<line x1="158.8" y1="387.94" x2="161.3" y2="387.94" stroke="#666" stroke-width="0.85"/>
<text x="157.9" y="389.76" font-family='"Liberation Serif", serif' font-size="5.2" font-weight="normal" font-style="normal" text-anchor="end" fill="#222" textLength="8.2" lengthAdjust="spacingAndGlyphs" stroke="#222" stroke-width="0.12" >0.25</text>
<line x1="158.8" y1="368.48" x2="161.3" y2="368.48" stroke="#666" stroke-width="0.85"/>
<text x="157.9" y="370.3" font-family='"Liberation Serif", serif' font-size="5.2" font-weight="normal" font-style="normal" text-anchor="end" fill="#222" textLength="8.2" lengthAdjust="spacingAndGlyphs" stroke="#222" stroke-width="0.12" >0.50</text>
<line x1="158.8" y1="349.02" x2="161.3" y2="349.02" stroke="#666" stroke-width="0.85"/>
<text x="157.9" y="350.84" font-family='"Liberation Serif", serif' font-size="5.2" font-weight="normal" font-style="normal" text-anchor="end" fill="#222" textLength="8.2" lengthAdjust="spacingAndGlyphs" stroke="#222" stroke-width="0.12" >0.75</text>
<line x1="158.8" y1="329.56" x2="161.3" y2="329.56" stroke="#666" stroke-width="0.85"/>
<text x="157.9" y="331.38" font-family='"Liberation Serif", serif' font-size="5.2" font-weight="normal" font-style="normal" text-anchor="end" fill="#222" textLength="8.2" lengthAdjust="spacingAndGlyphs" stroke="#222" stroke-width="0.12" >1.00</text>
<line x1="158.8" y1="310.1" x2="161.3" y2="310.1" stroke="#666" stroke-width="0.85"/>
<text x="157.9" y="311.92" font-family='"Liberation Serif", serif' font-size="5.2" font-weight="normal" font-style="normal" text-anchor="end" fill="#222" textLength="8.2" lengthAdjust="spacingAndGlyphs" stroke="#222" stroke-width="0.12" >1.25</text>
<line x1="170.7" y1="407.4" x2="170.7" y2="409.8" stroke="#666" stroke-width="0.9"/>
<text x="170.7" y="415.9" font-family='"Liberation Serif", serif' font-size="6.2" font-weight="bold" font-style="italic" text-anchor="middle" fill="#222" textLength="1.9" lengthAdjust="spacingAndGlyphs" stroke="#222" stroke-width="0.2" >o</text>
<line x1="189.95" y1="407.4" x2="189.95" y2="409.8" stroke="#666" stroke-width="0.9"/>
<text x="189.95" y="415.9" font-family='"Liberation Serif", serif' font-size="6.2" font-weight="bold" font-style="italic" text-anchor="middle" fill="#222" textLength="5.6" lengthAdjust="spacingAndGlyphs" stroke="#222" stroke-width="0.2" >lps</text>
<line x1="209.7" y1="407.4" x2="209.7" y2="409.8" stroke="#666" stroke-width="0.9"/>
<text x="209.7" y="415.9" font-family='"Liberation Serif", serif' font-size="6.2" font-weight="bold" font-style="italic" text-anchor="middle" fill="#222" textLength="3.5" lengthAdjust="spacingAndGlyphs" stroke="#222" stroke-width="0.2" >sh</text>
<line x1="228.8" y1="407.4" x2="228.8" y2="409.8" stroke="#666" stroke-width="0.9"/>
<text x="228.8" y="415.9" font-family='"Liberation Serif", serif' font-size="6.2" font-weight="bold" font-style="italic" text-anchor="middle" fill="#222" textLength="10.8" lengthAdjust="spacingAndGlyphs" stroke="#222" stroke-width="0.2" >sh/lps</text>
<text x="186.9" y="301.8" font-family='"Liberation Sans", sans-serif' font-size="5.2" font-weight="bold" font-style="normal" text-anchor="start" fill="#111" textLength="12.7" lengthAdjust="spacingAndGlyphs" stroke="#111" stroke-width="0.2" >CD40</text>
<text x="210.1" y="327.6" font-family='"Liberation Serif", serif' font-size="12.4" font-weight="normal" font-style="normal" text-anchor="start" fill="#111" textLength="23" lengthAdjust="spacingAndGlyphs" stroke="#111" stroke-width="0.3" >n = 4</text>
<text x="0" y="0" font-family='"Liberation Serif", serif' font-size="4.4" font-weight="bold" font-style="normal" text-anchor="middle" fill="#222" textLength="31.7" lengthAdjust="spacingAndGlyphs" stroke="#222" stroke-width="0.1" transform="translate(141.2,367.5) rotate(-90)">Relative MCF</text>
<rect x="300.2" y="371.12" width="13.7" height="36.28" fill="#dadada" stroke="#3c3c3c" stroke-width="0.95"/>
<line x1="307.05" y1="369.57" x2="307.05" y2="372.66" stroke="#222" stroke-width="0.75"/>
<line x1="305.45" y1="369.57" x2="308.65" y2="369.57" stroke="#222" stroke-width="0.98"/>
<line x1="305.45" y1="372.66" x2="308.65" y2="372.66" stroke="#222" stroke-width="0.98"/>
<rect x="320" y="330.2" width="13.6" height="77.2" fill="#dadada" stroke="#3c3c3c" stroke-width="0.95"/>
<line x1="326.8" y1="327.11" x2="326.8" y2="333.29" stroke="#222" stroke-width="0.75"/>
<line x1="325.2" y1="327.11" x2="328.4" y2="327.11" stroke="#222" stroke-width="0.98"/>
<line x1="325.2" y1="333.29" x2="328.4" y2="333.29" stroke="#222" stroke-width="0.98"/>
<rect x="339.1" y="385.78" width="13.5" height="21.62" fill="#dadada" stroke="#3c3c3c" stroke-width="0.95"/>
<rect x="358.8" y="329.43" width="13" height="77.97" fill="#dadada" stroke="#3c3c3c" stroke-width="0.95"/>
<line x1="365.3" y1="327.11" x2="365.3" y2="331.74" stroke="#222" stroke-width="0.75"/>
<line x1="363.7" y1="327.11" x2="366.9" y2="327.11" stroke="#222" stroke-width="0.98"/>
<line x1="363.7" y1="331.74" x2="366.9" y2="331.74" stroke="#222" stroke-width="0.98"/>
<rect x="296.9" y="310.9" width="78.5" height="96.5" fill="none" stroke="#666" stroke-width="0.95"/>
<line x1="294.4" y1="407.4" x2="296.9" y2="407.4" stroke="#666" stroke-width="0.85"/>
<text x="293.2" y="409.22" font-family='"Liberation Serif", serif' font-size="5.2" font-weight="normal" font-style="normal" text-anchor="end" fill="#222" textLength="8.2" lengthAdjust="spacingAndGlyphs" stroke="#222" stroke-width="0.12" >0.00</text>
<line x1="294.4" y1="388.1" x2="296.9" y2="388.1" stroke="#666" stroke-width="0.85"/>
<text x="293.2" y="389.92" font-family='"Liberation Serif", serif' font-size="5.2" font-weight="normal" font-style="normal" text-anchor="end" fill="#222" textLength="8.2" lengthAdjust="spacingAndGlyphs" stroke="#222" stroke-width="0.12" >0.25</text>
<line x1="294.4" y1="368.8" x2="296.9" y2="368.8" stroke="#666" stroke-width="0.85"/>
<text x="293.2" y="370.62" font-family='"Liberation Serif", serif' font-size="5.2" font-weight="normal" font-style="normal" text-anchor="end" fill="#222" textLength="8.2" lengthAdjust="spacingAndGlyphs" stroke="#222" stroke-width="0.12" >0.50</text>
<line x1="294.4" y1="349.5" x2="296.9" y2="349.5" stroke="#666" stroke-width="0.85"/>
<text x="293.2" y="351.32" font-family='"Liberation Serif", serif' font-size="5.2" font-weight="normal" font-style="normal" text-anchor="end" fill="#222" textLength="8.2" lengthAdjust="spacingAndGlyphs" stroke="#222" stroke-width="0.12" >0.75</text>
<line x1="294.4" y1="330.2" x2="296.9" y2="330.2" stroke="#666" stroke-width="0.85"/>
<text x="293.2" y="332.02" font-family='"Liberation Serif", serif' font-size="5.2" font-weight="normal" font-style="normal" text-anchor="end" fill="#222" textLength="8.2" lengthAdjust="spacingAndGlyphs" stroke="#222" stroke-width="0.12" >1.00</text>
<line x1="294.4" y1="310.9" x2="296.9" y2="310.9" stroke="#666" stroke-width="0.85"/>
<text x="293.2" y="312.72" font-family='"Liberation Serif", serif' font-size="5.2" font-weight="normal" font-style="normal" text-anchor="end" fill="#222" textLength="8.2" lengthAdjust="spacingAndGlyphs" stroke="#222" stroke-width="0.12" >1.25</text>
<line x1="307.05" y1="407.4" x2="307.05" y2="409.8" stroke="#666" stroke-width="0.9"/>
<text x="307.05" y="415.9" font-family='"Liberation Serif", serif' font-size="6.2" font-weight="bold" font-style="italic" text-anchor="middle" fill="#222" textLength="1.9" lengthAdjust="spacingAndGlyphs" stroke="#222" stroke-width="0.2" >o</text>
<line x1="326.8" y1="407.4" x2="326.8" y2="409.8" stroke="#666" stroke-width="0.9"/>
<text x="326.8" y="415.9" font-family='"Liberation Serif", serif' font-size="6.2" font-weight="bold" font-style="italic" text-anchor="middle" fill="#222" textLength="5.6" lengthAdjust="spacingAndGlyphs" stroke="#222" stroke-width="0.2" >lps</text>
<line x1="345.85" y1="407.4" x2="345.85" y2="409.8" stroke="#666" stroke-width="0.9"/>
<text x="345.85" y="415.9" font-family='"Liberation Serif", serif' font-size="6.2" font-weight="bold" font-style="italic" text-anchor="middle" fill="#222" textLength="3.5" lengthAdjust="spacingAndGlyphs" stroke="#222" stroke-width="0.2" >sh</text>
<line x1="365.3" y1="407.4" x2="365.3" y2="409.8" stroke="#666" stroke-width="0.9"/>
<text x="365.3" y="415.9" font-family='"Liberation Serif", serif' font-size="6.2" font-weight="bold" font-style="italic" text-anchor="middle" fill="#222" textLength="10.8" lengthAdjust="spacingAndGlyphs" stroke="#222" stroke-width="0.2" >sh/lps</text>
<text x="327.2" y="301.8" font-family='"Liberation Sans", sans-serif' font-size="5.2" font-weight="bold" font-style="normal" text-anchor="start" fill="#111" textLength="5.7" lengthAdjust="spacingAndGlyphs" stroke="#111" stroke-width="0.2" >DR</text>
<text x="348.7" y="327" font-family='"Liberation Serif", serif' font-size="12.4" font-weight="normal" font-style="normal" text-anchor="start" fill="#111" textLength="23.5" lengthAdjust="spacingAndGlyphs" stroke="#111" stroke-width="0.3" >n = 4</text>
<text x="0" y="0" font-family='"Liberation Serif", serif' font-size="4.4" font-weight="bold" font-style="normal" text-anchor="middle" fill="#222" textLength="32" lengthAdjust="spacingAndGlyphs" stroke="#222" stroke-width="0.1" transform="translate(276.5,368) rotate(-90)">Relative MCF</text>
<rect x="437.7" y="334.12" width="11.9" height="73.48" fill="#dadada" stroke="#3c3c3c" stroke-width="0.95"/>
<line x1="443.65" y1="331.7" x2="443.65" y2="336.55" stroke="#222" stroke-width="0.75"/>
<line x1="442.05" y1="331.7" x2="445.25" y2="331.7" stroke="#222" stroke-width="0.98"/>
<line x1="442.05" y1="336.55" x2="445.25" y2="336.55" stroke="#222" stroke-width="0.98"/>
<rect x="456.1" y="383.35" width="12.8" height="24.25" fill="#dadada" stroke="#3c3c3c" stroke-width="0.95"/>
<rect x="475.4" y="351.1" width="12.7" height="56.5" fill="#dadada" stroke="#3c3c3c" stroke-width="0.95"/>
<line x1="481.75" y1="349.4" x2="481.75" y2="352.8" stroke="#222" stroke-width="0.75"/>
<line x1="480.15" y1="349.4" x2="483.35" y2="349.4" stroke="#222" stroke-width="0.98"/>
<line x1="480.15" y1="352.8" x2="483.35" y2="352.8" stroke="#222" stroke-width="0.98"/>
<rect x="494.2" y="387.23" width="13.3" height="20.37" fill="#dadada" stroke="#3c3c3c" stroke-width="0.95"/>
<rect x="434.1" y="310.6" width="76.5" height="97" fill="none" stroke="#666" stroke-width="0.95"/>
<line x1="431.6" y1="407.6" x2="434.1" y2="407.6" stroke="#666" stroke-width="0.85"/>
<text x="430.3" y="409.42" font-family='"Liberation Serif", serif' font-size="5.2" font-weight="normal" font-style="normal" text-anchor="end" fill="#222" textLength="8.2" lengthAdjust="spacingAndGlyphs" stroke="#222" stroke-width="0.12" >0.00</text>
<line x1="431.6" y1="383.35" x2="434.1" y2="383.35" stroke="#666" stroke-width="0.85"/>
<text x="430.3" y="385.17" font-family='"Liberation Serif", serif' font-size="5.2" font-weight="normal" font-style="normal" text-anchor="end" fill="#222" textLength="8.2" lengthAdjust="spacingAndGlyphs" stroke="#222" stroke-width="0.12" >1.00</text>
<line x1="431.6" y1="359.1" x2="434.1" y2="359.1" stroke="#666" stroke-width="0.85"/>
<text x="430.3" y="360.92" font-family='"Liberation Serif", serif' font-size="5.2" font-weight="normal" font-style="normal" text-anchor="end" fill="#222" textLength="8.2" lengthAdjust="spacingAndGlyphs" stroke="#222" stroke-width="0.12" >2.00</text>
<line x1="431.6" y1="334.85" x2="434.1" y2="334.85" stroke="#666" stroke-width="0.85"/>
<text x="430.3" y="336.67" font-family='"Liberation Serif", serif' font-size="5.2" font-weight="normal" font-style="normal" text-anchor="end" fill="#222" textLength="8.2" lengthAdjust="spacingAndGlyphs" stroke="#222" stroke-width="0.12" >3.00</text>
<line x1="431.6" y1="310.6" x2="434.1" y2="310.6" stroke="#666" stroke-width="0.85"/>
<text x="430.3" y="312.42" font-family='"Liberation Serif", serif' font-size="5.2" font-weight="normal" font-style="normal" text-anchor="end" fill="#222" textLength="8.2" lengthAdjust="spacingAndGlyphs" stroke="#222" stroke-width="0.12" >4.00</text>
<line x1="443.65" y1="407.6" x2="443.65" y2="410" stroke="#666" stroke-width="0.9"/>
<text x="443.65" y="415.9" font-family='"Liberation Serif", serif' font-size="6.2" font-weight="bold" font-style="italic" text-anchor="middle" fill="#222" textLength="1.9" lengthAdjust="spacingAndGlyphs" stroke="#222" stroke-width="0.2" >o</text>
<line x1="462.5" y1="407.6" x2="462.5" y2="410" stroke="#666" stroke-width="0.9"/>
<text x="462.5" y="415.9" font-family='"Liberation Serif", serif' font-size="6.2" font-weight="bold" font-style="italic" text-anchor="middle" fill="#222" textLength="5.6" lengthAdjust="spacingAndGlyphs" stroke="#222" stroke-width="0.2" >lps</text>
<line x1="481.75" y1="407.6" x2="481.75" y2="410" stroke="#666" stroke-width="0.9"/>
<text x="481.75" y="415.9" font-family='"Liberation Serif", serif' font-size="6.2" font-weight="bold" font-style="italic" text-anchor="middle" fill="#222" textLength="3.5" lengthAdjust="spacingAndGlyphs" stroke="#222" stroke-width="0.2" >sh</text>
<line x1="500.85" y1="407.6" x2="500.85" y2="410" stroke="#666" stroke-width="0.9"/>
<text x="500.85" y="415.9" font-family='"Liberation Serif", serif' font-size="6.2" font-weight="bold" font-style="italic" text-anchor="middle" fill="#222" textLength="10.8" lengthAdjust="spacingAndGlyphs" stroke="#222" stroke-width="0.2" >sh/lps</text>
<text x="446.9" y="302.6" font-family='"Liberation Sans", sans-serif' font-size="5" font-weight="bold" font-style="normal" text-anchor="start" fill="#111" textLength="37.5" lengthAdjust="spacingAndGlyphs" stroke="#111" stroke-width="0.2" >Macropinocytosis</text>
<text x="485.9" y="328.2" font-family='"Liberation Serif", serif' font-size="12.4" font-weight="normal" font-style="normal" text-anchor="start" fill="#111" textLength="22.3" lengthAdjust="spacingAndGlyphs" stroke="#111" stroke-width="0.3" >n = 3</text>
<text x="0" y="0" font-family='"Liberation Serif", serif' font-size="4.4" font-weight="bold" font-style="normal" text-anchor="middle" fill="#222" textLength="31.6" lengthAdjust="spacingAndGlyphs" stroke="#222" stroke-width="0.1" transform="translate(413.6,368) rotate(-90)">Relative MCF</text>
<text x="0.4" y="12.7" font-family='"Liberation Sans", sans-serif' font-size="18.5" font-weight="bold" font-style="normal" text-anchor="start" fill="#000" textLength="12" lengthAdjust="spacingAndGlyphs" >A</text>
<text x="-1" y="302" font-family='"Liberation Sans", sans-serif' font-size="16.7" font-weight="bold" font-style="normal" text-anchor="start" fill="#000" textLength="12.8" lengthAdjust="spacingAndGlyphs" >B</text>
</svg>
</body></html>
